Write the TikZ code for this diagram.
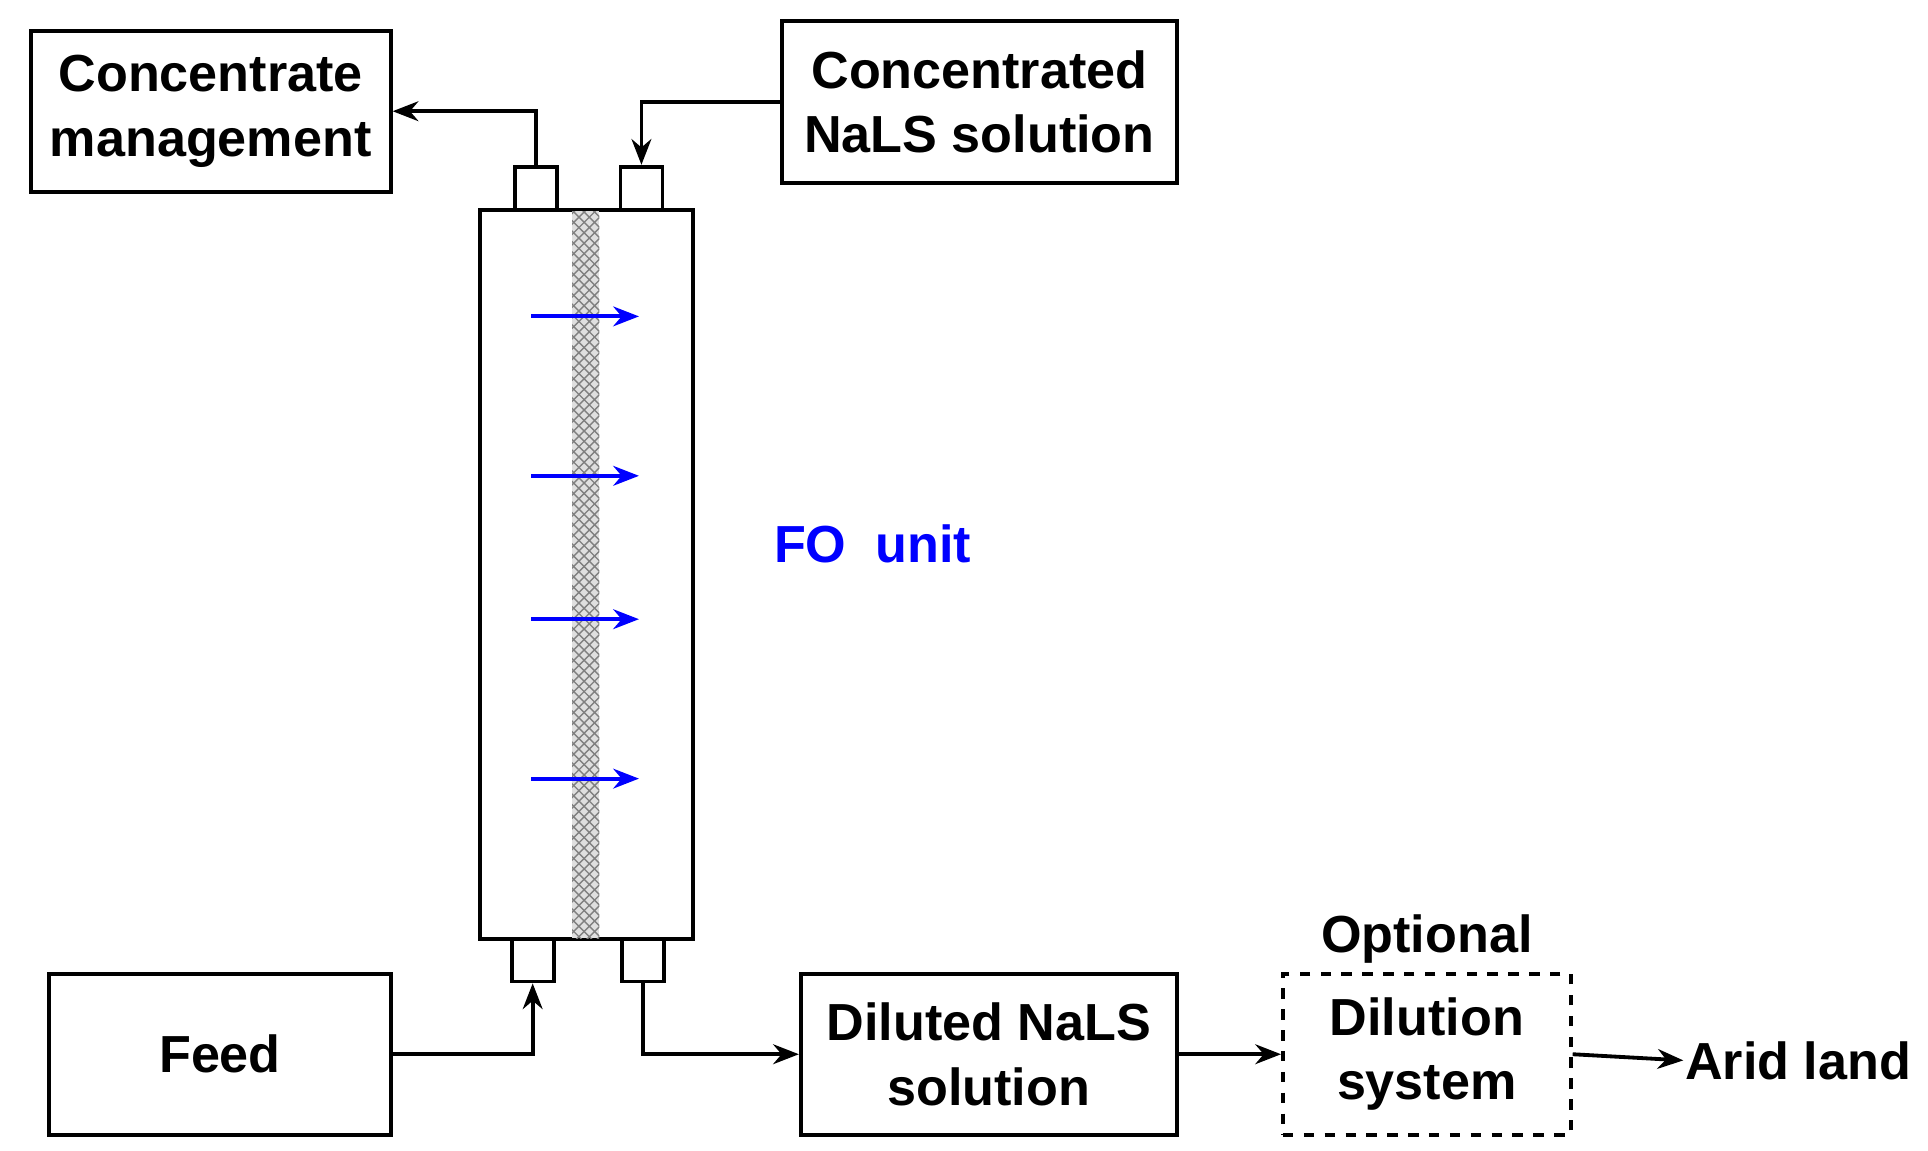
\documentclass[tikz,border=0pt]{standalone}
\usepackage{fontspec}
\setmainfont{Liberation Sans}
\usetikzlibrary{arrows.meta,patterns}
\tikzset{
	box/.style = {draw, line width = 1.1pt, align = center, inner sep = 0pt,
		font = \fontsize{15}{18.5}\selectfont\bfseries},
	port/.style = {draw, line width = 1.1pt, minimum width = 0.425cm, minimum height = 0.44cm, inner sep = 0pt},
	flow/.style = {line width = 1.1pt, -{Stealth[length = 2.6mm, width = 2mm]}},
	perm/.style = {blue, line width = 1.1pt, -{Stealth[length = 2.6mm, width = 2mm]}}
}
\begin{document}
\begin{tikzpicture}[x = 0.0125cm, y = -0.0125cm]
	\useasboundingbox (0, 0) rectangle (1560, 931);
	% boxes
	\node[box, minimum width = 3.64cm, minimum height = 1.625cm] (conc) at (170.5, 90) {Concentrate\\management};
	\node[box, minimum width = 3.99cm, minimum height = 1.64cm] (draw) at (792.5, 82.5) {Concentrated\\NaLS solution};
	\node[box, minimum width = 3.45cm, minimum height = 1.625cm] (feed) at (178, 853) {Feed};
	\node[box, minimum width = 3.8cm, minimum height = 1.625cm] (dil) at (800, 853) {Diluted NaLS\\solution};
	\node[box, dashed, minimum width = 2.91cm, minimum height = 1.625cm] (sys) at (1154.5, 853) {Dilution\\system};
	\node[box, draw = none, above = 2pt] (opt) at (sys.north) {Optional};
	\node[box, draw = none, anchor = west] (arid) at (1362, 858) {Arid land};
	
	% FO column
	\node[port] (pa) at (434, 152.5) {};
	\node[port] (pb) at (519, 152.5) {};
	\node[port] (pc) at (431, 776.5) {};
	\node[port] (pd) at (520, 776.5) {};
	\node[draw, line width = 1.1pt, fill = white, minimum width = 2.16cm, minimum height = 7.375cm] (col) at (474.5, 465) {};
	\fill[gray!25] (463, 171) rectangle (485, 759);
	\fill[pattern = crosshatch, pattern color = gray] (463, 171) rectangle (485, 759);
	\foreach \y in {256, 385, 501, 630} {
		\draw[perm] (430, \y) -- (517, \y);
	}
	\node[box, draw = none, blue] (fo) at (706, 440) {FO\ \ unit};
	
	% connectors
	\draw[flow] (pa.north) |- (conc.east);
	\draw[flow] (draw.west) -| (pb.north);
	\draw[flow] (feed.east) -| (pc.south);
	\draw[flow] (pd.south) |- (dil.west);
	\draw[flow] (dil.east) -- (sys.west);
	\draw[flow] (sys.east) -- (arid.west);
\end{tikzpicture}
\end{document}
